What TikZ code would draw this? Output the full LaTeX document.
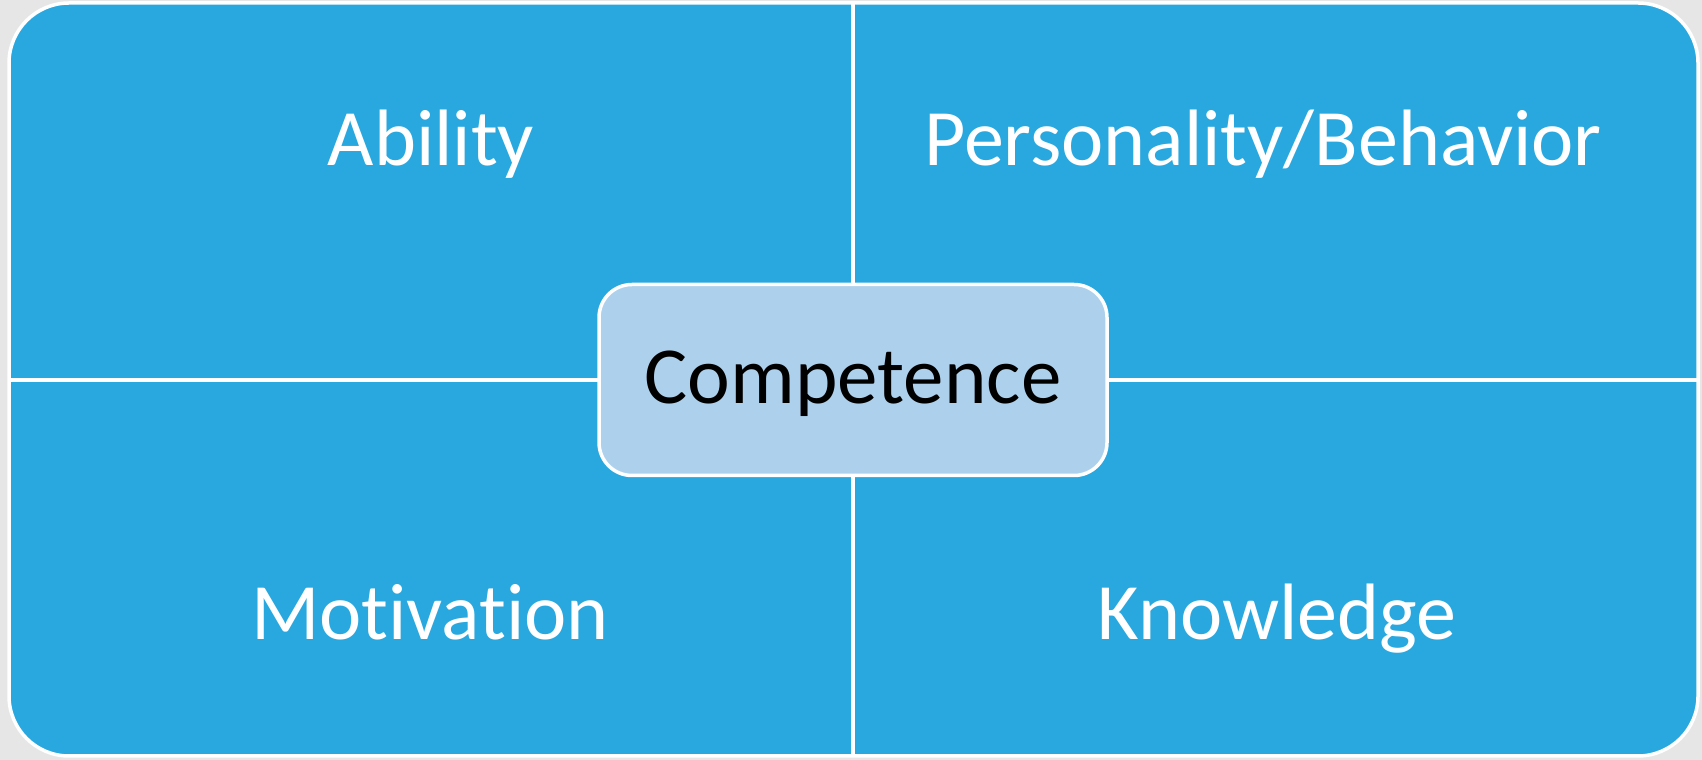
\documentclass[tikz,border=0pt]{standalone}
\usepackage{fontspec}
\setmainfont{Carlito}[Ligatures={NoCommon}]
\definecolor{quadblue}{RGB}{41,168,224}
\definecolor{coreblue}{RGB}{173,209,236}
\definecolor{bggray}{RGB}{230,230,230}
\begin{document}
\begin{tikzpicture}[x=1pt,y=1pt,
  outerbox/.style={draw=white,line width=3.5pt,fill=quadblue,rounded corners=60pt,
    inner sep=0pt,outer sep=0pt,minimum width=1689pt,minimum height=753pt},
  corebox/.style={draw=white,line width=3.5pt,fill=coreblue,rounded corners=33pt,
    inner sep=0pt,outer sep=0pt,minimum width=508pt,minimum height=191pt,
    font=\fontsize{81}{96}\selectfont,text=black,text height=64pt,text depth=16pt},
  quadlabel/.style={anchor=base,text=white,inner sep=0pt,font=\fontsize{80}{96}\selectfont},
  divider/.style={draw=white,line width=3.5pt}]
\useasboundingbox (0,0) rectangle (1702,760);
\fill[bggray] (0,0) rectangle (1702,760);
\node[outerbox] (outer) at (853.5,380.5) {};
\draw[divider] (outer.north -| 853,0) -- (outer.south -| 853,0);
\draw[divider] (outer.west |- 0,380) -- (outer.east |- 0,380);
\node[corebox] (core) at (853,380) {Competence};
\node[quadlabel] (ability) at (431,594) {Ability};
\node[quadlabel] (personality) at (1263,594) {Personality/Behavior};
\node[quadlabel] (motivation) at (430,120) {Motivation};
\node[quadlabel] (knowledge) at (1277,120) {Knowledge};
\end{tikzpicture}
\end{document}
